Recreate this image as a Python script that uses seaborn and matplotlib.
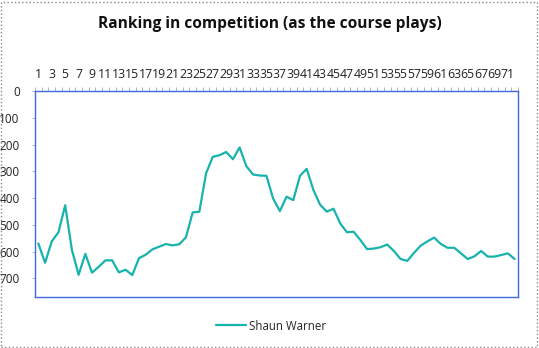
import numpy as np
import pandas as pd
import matplotlib
matplotlib.use("Agg")
import matplotlib.pyplot as plt
from matplotlib.patches import Rectangle
from matplotlib.ticker import FixedLocator
import seaborn as sns

# ---- data ----
rounds = list(range(1, 73))
ranking = [570, 642, 562, 528, 427, 594, 687, 609, 679, 657,
           633, 633, 678, 668, 688, 625, 612, 592, 582, 572,
           577, 573, 547, 454, 451, 308, 246, 240, 228, 255,
           211, 281, 312, 316, 317, 402, 449, 395, 408, 317,
           291, 370, 425, 451, 440, 495, 528, 526, 557, 591,
           589, 584, 574, 598, 628, 635, 605, 578, 562, 548,
           572, 586, 586, 607, 628, 618, 598, 619, 619, 613,
           607, 628]
series_name = "Shaun Warner"
title = "Ranking in competition (as the course plays)"
y_ticks = [0, 100, 200, 300, 400, 500, 600, 700]

sns.set_theme(style="white")
plt.rcParams['font.family'] = ['Open Sans', 'DejaVu Sans']

fig = plt.figure(figsize=(5.39, 3.48), dpi=100)
ax = fig.add_axes([35/539, 1-297/348, (518-35)/539, (297-91)/348])

df = pd.DataFrame({"pos": np.arange(len(rounds)), "rank": ranking, "who": series_name})
sns.lineplot(data=df, x="pos", y="rank", hue="who", palette=["#17B3AC"],
             linewidth=1.6, ax=ax, legend=True)

ax.set_xlim(-0.5, len(rounds) - 0.5)
ax.set_ylim(770, 0)
ax.xaxis.tick_top()
odd_pos = [i for i, r in enumerate(rounds) if r % 2 == 1]
ax.set_xticks(odd_pos)
ax.set_xticklabels([str(rounds[i]) for i in odd_pos], fontsize=8.8, color="#222222")
ax.xaxis.set_minor_locator(FixedLocator(np.arange(-0.5, len(rounds), 1.0)))
ax.tick_params(axis="x", which="major", length=0, pad=7)
ax.tick_params(axis="x", which="minor", top=True, bottom=False, length=3,
               width=0.6, color="#aaaaaa", direction="out")
ax.set_yticks(y_ticks)
ax.set_yticklabels([str(v) for v in y_ticks], fontsize=8.5, color="#222222")
ax.tick_params(axis="y", which="major", left=True, length=2, width=0.6,
               color="#aaaaaa", pad=9)
ax.set_xlabel("")
ax.set_ylabel("")
for s in ax.spines.values():
    s.set_visible(True)
    s.set_color("#4169E1")
    s.set_linewidth(1.0)

fig.text(270/539, 1-24/348, title, ha="center", va="center",
         fontsize=11.2, fontweight="bold", color="#111111")

leg = ax.legend(loc="center", bbox_to_anchor=(271/539, 1-326/348),
                bbox_transform=fig.transFigure, frameon=False, fontsize=8.3,
                handlelength=2.6, handletextpad=0.2)

fig.patches.append(Rectangle((1/539, 1/348), 536/539, 345/348,
                             transform=fig.transFigure, fill=False,
                             edgecolor="#888888", linestyle=":", linewidth=1.0))

fig.savefig("out.png", dpi=100)
